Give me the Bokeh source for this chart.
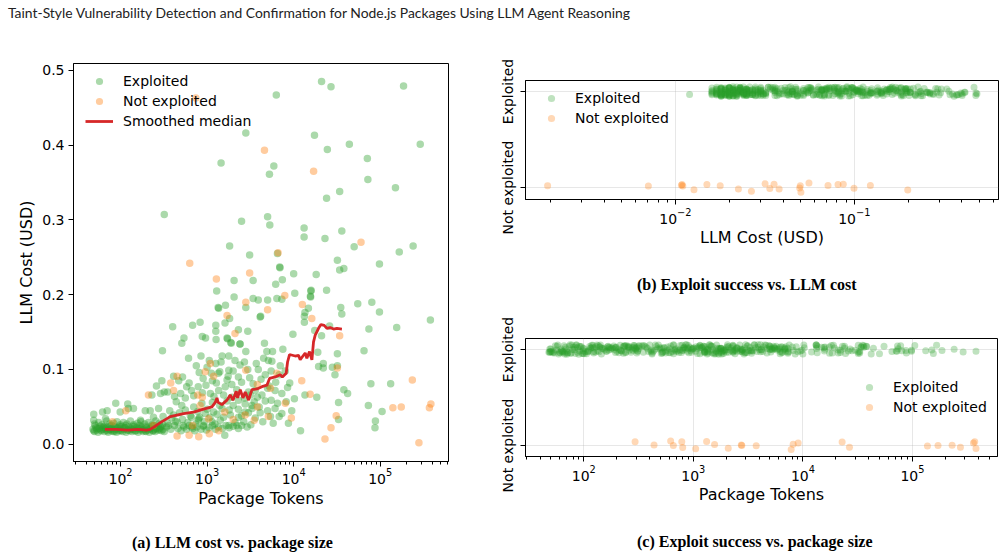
from bokeh.plotting import figure
from bokeh.models import (ColumnDataSource, Range1d, FixedTicker, LogTickFormatter,
                          NumeralTickFormatter, Legend, LegendItem, Div)
from bokeh.layouts import column, row
from bokeh.transform import jitter
from bokeh.embed import file_html
from bokeh.resources import INLINE

# ---------------- data ----------------
HEADER = "Taint-Style Vulnerability Detection and Confirmation for Node.js Packages Using LLM Agent Reasoning"
CAPTION_A = "(a) LLM cost vs. package size"
CAPTION_B = "(b) Exploit success vs. LLM cost"
CAPTION_C = "(c) Exploit success vs. package size"
STATUS_LABELS = {0: "Not exploited", 1: "Exploited"}

# exploited packages: (package tokens, LLM cost in USD), grouped by region
exp_tok_top = [21000, 27000, 186000, 6300, 2800, 17400, 44000, 290000, 24500, 71000,
               1450, 5900, 5250, 72000, 150000, 34000, 24000]
exp_cost_top = [0.485, 0.478, 0.479, 0.467, 0.416, 0.413, 0.401, 0.401, 0.394, 0.382,
                0.376, 0.372, 0.361, 0.354, 0.343, 0.338, 0.329]

exp_tok_midleft = [320, 2500, 1820, 3100, 2050, 3400, 1290, 2050, 3400, 3900,
                   1340, 1360, 1630, 2800, 4100, 4150, 1820, 400, 680, 830,
                   1260, 1610, 1260, 2300, 2950, 540, 880, 960, 1270, 1700,
                   1720, 1900, 1880, 510, 2400]
exp_cost_midleft = [0.307, 0.298, 0.265, 0.253, 0.219, 0.219, 0.205, 0.197, 0.195, 0.193,
                    0.183, 0.182, 0.186, 0.183, 0.170, 0.171, 0.168, 0.157, 0.159, 0.163,
                    0.159, 0.162, 0.151, 0.153, 0.151, 0.142, 0.144, 0.142, 0.140, 0.142,
                    0.141, 0.135, 0.136, 0.135, 0.134]

exp_tok_midright = [5000, 5300, 13200, 13200, 23000, 36000, 50000, 166000, 240000, 98000,
                    32000, 34000, 38000, 6900, 6950, 6500, 10000, 18200, 7400, 6200,
                    15800, 15900, 15700, 15600, 24000, 10300, 5000, 6400, 7300, 55000,
                    80000, 98000, 35000, 36000, 14800, 13500, 13300, 13300, 74000, 155000,
                    380000, 9800, 21000, 17500, 26000, 4600]
exp_cost_midright = [0.304, 0.293, 0.289, 0.277, 0.275, 0.285, 0.264, 0.257, 0.265, 0.241,
                     0.246, 0.233, 0.235, 0.237, 0.236, 0.255, 0.228, 0.227, 0.220, 0.214,
                     0.205, 0.206, 0.197, 0.198, 0.206, 0.202, 0.193, 0.195, 0.194, 0.188,
                     0.190, 0.177, 0.183, 0.174, 0.182, 0.176, 0.171, 0.163, 0.154, 0.156,
                     0.166, 0.147, 0.145, 0.152, 0.158, 0.135]

exp_tok_lowright = [65000, 19000, 32000, 19400, 22000, 22000, 28000, 32000, 30000, 78000,
                    132000, 38000, 42000, 18500, 33000, 73000, 105000, 33000, 88000, 87000]
exp_cost_lowright = [0.125, 0.123, 0.121, 0.104, 0.108, 0.102, 0.103, 0.105, 0.093, 0.081,
                     0.081, 0.073, 0.068, 0.063, 0.056, 0.052, 0.044, 0.033, 0.031, 0.022]

exp_tok_center = [850, 1060, 1260, 1490, 1780, 2100, 2800, 2400, 4900, 5700,
                  5600, 5100, 7500, 3900, 2950, 2400, 1780, 1400, 1120, 810,
                  1750, 2300, 3100, 4700, 6800, 8500, 10200, 13500, 8200, 9500,
                  6800, 8700, 12000, 4100, 5500, 5200, 1090, 880, 1360, 1620,
                  1930, 1280, 970, 790, 2750, 3300, 2750, 2300, 1860, 1490,
                  1190, 950, 800, 910, 1140, 1420, 1780, 2200, 2650, 5400,
                  6100, 7300, 6100, 3600, 4300, 3800, 3150, 3500, 2300, 1930]
exp_cost_center = [0.118, 0.112, 0.108, 0.118, 0.118, 0.112, 0.124, 0.134, 0.124, 0.124,
                   0.111, 0.112, 0.127, 0.100, 0.100, 0.106, 0.099, 0.097, 0.095, 0.096,
                   0.091, 0.090, 0.089, 0.093, 0.093, 0.076, 0.061, 0.066, 0.057, 0.045,
                   0.037, 0.028, 0.018, 0.042, 0.059, 0.078, 0.068, 0.069, 0.072, 0.077,
                   0.080, 0.082, 0.079, 0.077, 0.054, 0.048, 0.043, 0.036, 0.039, 0.048,
                   0.043, 0.041, 0.034, 0.025, 0.030, 0.032, 0.025, 0.025, 0.030, 0.037,
                   0.048, 0.068, 0.072, 0.072, 0.066, 0.063, 0.066, 0.057, 0.059, 0.063]

exp_tok_small = [305, 610, 410, 470, 300, 260, 320, 290, 230, 495,
                 580, 660, 440, 510, 370, 275, 220, 193, 141, 121,
                 123, 88, 70, 62, 49, 49, 67, 99, 170, 240,
                 310, 410, 660, 790, 450, 360, 530, 660]
exp_cost_small = [0.125, 0.115, 0.091, 0.085, 0.085, 0.078, 0.070, 0.068, 0.066, 0.068,
                  0.077, 0.072, 0.057, 0.052, 0.045, 0.048, 0.045, 0.045, 0.048, 0.054,
                  0.048, 0.055, 0.045, 0.043, 0.040, 0.032, 0.034, 0.043, 0.032, 0.036,
                  0.037, 0.039, 0.036, 0.032, 0.030, 0.025, 0.025, 0.023]

exp_tok_band = [340, 380, 420, 460, 500, 540, 580, 620, 680, 720,
                760, 850, 900, 980, 1050, 1150, 1250, 1350, 1500, 1650,
                1800, 2000, 2300, 2500, 2900, 3200, 1600]
exp_cost_band = [0.023, 0.020, 0.025, 0.021, 0.018, 0.023, 0.020, 0.025, 0.021, 0.018,
                 0.023, 0.020, 0.024, 0.019, 0.022, 0.025, 0.020, 0.023, 0.021, 0.025,
                 0.022, 0.024, 0.021, 0.025, 0.023, 0.026, 0.012]

exp_tok_lowmid = [350, 390, 430, 480, 520, 560, 600, 640, 700, 740,
                  780, 820, 870, 930, 1000, 1080, 1150, 1230, 1300, 1400,
                  1550, 1700, 1800, 2000, 2100, 2300, 2500, 2700, 3000, 3300,
                  3600, 4000, 4400, 5000, 5800, 6500, 7300, 4700]
exp_cost_lowmid = [0.028, 0.035, 0.030, 0.042, 0.033, 0.046, 0.029, 0.038, 0.050, 0.027,
                   0.044, 0.036, 0.055, 0.030, 0.047, 0.036, 0.056, 0.027, 0.040, 0.052,
                   0.036, 0.058, 0.046, 0.052, 0.029, 0.047, 0.038, 0.062, 0.042, 0.052,
                   0.035, 0.050, 0.030, 0.045, 0.028, 0.055, 0.041, 0.058]

exp_tok_upmid = [350, 420, 520, 560, 620, 700, 750, 900, 1000, 1150,
                 1200, 1350, 1450, 1550, 1700, 2000, 2200, 2500, 2700, 3000,
                 3400, 3700, 4200, 4500, 5000, 5500, 6200, 7000, 8000, 9000]
exp_cost_upmid = [0.070, 0.064, 0.090, 0.062, 0.082, 0.065, 0.105, 0.088, 0.103, 0.085,
                  0.064, 0.095, 0.110, 0.066, 0.086, 0.098, 0.073, 0.083, 0.110, 0.070,
                  0.081, 0.108, 0.087, 0.115, 0.075, 0.098, 0.083, 0.105, 0.098, 0.082]

exp_tok_cluster = [48, 50, 52, 53, 55, 57, 58, 60, 62, 63,
                   65, 67, 68, 70, 72, 74, 76, 78, 80, 82,
                   84, 86, 88, 90, 93, 95, 98, 100, 103, 106,
                   110, 113, 116, 120, 124, 128, 132, 136, 140, 145,
                   150, 155, 160, 165, 170, 176, 182, 188, 195, 200,
                   208, 215, 222, 230, 238, 245, 252, 260, 270, 280,
                   290, 300, 310, 320,
                   49, 54, 59, 64, 71, 77, 85, 92, 101, 111,
                   122, 134, 147, 162, 178, 196, 216, 236, 258, 285,
                   51, 66, 79, 97, 115, 138, 167, 198, 242, 295,
                   50, 56, 61, 69, 75, 83, 91, 99, 108, 118,
                   130, 142, 156, 172, 190, 210, 232, 255, 280, 305]
exp_cost_cluster = [0.020, 0.017, 0.022, 0.019, 0.016, 0.021, 0.024, 0.018, 0.020, 0.023,
                    0.017, 0.021, 0.019, 0.022, 0.016, 0.020, 0.024, 0.018, 0.021, 0.017,
                    0.019, 0.023, 0.020, 0.016, 0.022, 0.018, 0.021, 0.019, 0.024, 0.017,
                    0.020, 0.022, 0.016, 0.019, 0.023, 0.018, 0.021, 0.017, 0.020, 0.024,
                    0.018, 0.022, 0.016, 0.019, 0.021, 0.023, 0.017, 0.020, 0.018, 0.022,
                    0.019, 0.016, 0.021, 0.024, 0.018, 0.020, 0.017, 0.022, 0.019, 0.021,
                    0.023, 0.018, 0.020, 0.017,
                    0.018, 0.021, 0.019, 0.022, 0.018, 0.020, 0.017, 0.021, 0.018, 0.022,
                    0.019, 0.020, 0.018, 0.021, 0.019, 0.017, 0.020, 0.018, 0.021, 0.019,
                    0.025, 0.024, 0.025, 0.024, 0.025, 0.024, 0.025, 0.024, 0.025, 0.024,
                    0.027, 0.029, 0.026, 0.031, 0.027, 0.028, 0.030, 0.026, 0.029, 0.027,
                    0.031, 0.026, 0.028, 0.030, 0.027, 0.029, 0.026, 0.031, 0.028, 0.027]

# not exploited packages in panel (a)
nexp_tok = [740, 4600, 17000, 630, 1280, 3100, 2800, 1700, 2100, 60000,
            6600, 7900, 5000, 12600, 16200, 34000, 32000, 235000, 140000, 175000,
            385000, 370000, 31000, 27000, 23000, 280000, 1090, 950, 1190, 2800,
            6400, 3800, 5400, 12400, 15500, 8000, 9400, 5100, 3500, 2750,
            2000, 1600, 1040, 800, 1060, 1360, 3800, 880, 210, 115,
            81, 240, 380, 450, 410, 450, 620, 780, 830, 680]
nexp_cost = [0.463, 0.393, 0.365, 0.242, 0.221, 0.229, 0.190, 0.172, 0.148, 0.270,
             0.256, 0.199, 0.180, 0.187, 0.168, 0.145, 0.102, 0.086, 0.049, 0.050,
             0.054, 0.049, 0.038, 0.022, 0.007, 0.002, 0.108, 0.097, 0.091, 0.099,
             0.095, 0.080, 0.075, 0.085, 0.067, 0.055, 0.035, 0.037, 0.032, 0.039,
             0.033, 0.043, 0.034, 0.010, 0.014, 0.018, 0.050, 0.063, 0.066, 0.045,
             0.030, 0.025, 0.082, 0.091, 0.072, 0.011, 0.012, 0.066, 0.052, 0.025]

# smoothed median of cost over package tokens
median_tok = [66, 90, 120, 160, 200, 220, 250, 288, 375, 535,
              697, 910, 1137, 1242, 1300, 1340, 1483, 1694, 1850, 1985,
              2170, 2248, 2415, 2594, 2760, 3015, 3300, 3766, 4300, 4910,
              5265, 6120, 7000, 7400, 8200, 8500, 8960, 10420, 11380, 11900,
              12800, 13600, 14200, 15250, 16250, 16960, 17740, 19380, 20650, 22550,
              24200, 26400, 28900, 31600, 36100]
median_cost = [0.020, 0.020, 0.019, 0.020, 0.019, 0.020, 0.024, 0.029, 0.037, 0.041,
               0.043, 0.047, 0.050, 0.056, 0.062, 0.056, 0.053, 0.059, 0.066, 0.059,
               0.071, 0.062, 0.073, 0.062, 0.070, 0.059, 0.073, 0.074, 0.077, 0.079,
               0.088, 0.090, 0.093, 0.090, 0.095, 0.110, 0.120, 0.118, 0.119, 0.113,
               0.118, 0.122, 0.115, 0.124, 0.113, 0.137, 0.146, 0.155, 0.160, 0.159,
               0.155, 0.156, 0.154, 0.155, 0.154]

# not exploited packages shown in panels (b) and (c)
nexp_cost_b = [0.00193, 0.00706, 0.0108, 0.0109, 0.0110, 0.0127, 0.0150, 0.0178, 0.0225, 0.0266,
               0.0317, 0.0337, 0.0356, 0.0380, 0.0495, 0.0499, 0.0503, 0.0558, 0.0713, 0.0811,
               0.0868, 0.0996, 0.123, 0.199]
nexp_tok_c = [294, 438, 621, 657, 785, 800, 1050, 1322, 1563, 2083,
              2740, 2770, 3747, 7816, 8150, 9050, 22800, 26600, 137000, 171000,
              230000, 274000, 360000, 370000, 380000]

exp_tok = (exp_tok_top + exp_tok_midleft + exp_tok_midright + exp_tok_lowright + exp_tok_center
           + exp_tok_small + exp_tok_band + exp_tok_lowmid + exp_tok_upmid + exp_tok_cluster)
exp_cost = (exp_cost_top + exp_cost_midleft + exp_cost_midright + exp_cost_lowright + exp_cost_center
            + exp_cost_small + exp_cost_band + exp_cost_lowmid + exp_cost_upmid + exp_cost_cluster)
assert len(exp_tok) == len(exp_cost)
assert len(nexp_tok) == len(nexp_cost)
assert len(median_tok) == len(median_cost)

# ---------------- styling ----------------
GREEN, ORANGE, RED = "#2ca02c", "#ff7f0e", "#d62728"
FONT = "DejaVu Sans"
CAP_FONT = "Liberation Serif"


def minor_decades(e0, e1):
    return [m * 10.0 ** e for e in range(e0, e1) for m in range(2, 10)]


def style(p):
    for ax in p.axis:
        ax.axis_line_color = "black"
        ax.axis_line_width = 1
        ax.major_tick_line_color = "black"
        ax.minor_tick_line_color = "black"
        ax.major_tick_out = 5
        ax.major_tick_in = 0
        ax.minor_tick_out = 3
        ax.minor_tick_in = 0
        ax.major_label_text_font = FONT
        ax.major_label_text_font_size = "14px"
        ax.major_label_text_color = "black"
        ax.axis_label_text_font = FONT
        ax.axis_label_text_font_size = "16px"
        ax.axis_label_text_font_style = "normal"
        ax.axis_label_text_color = "black"
    p.outline_line_color = "black"
    p.outline_line_alpha = 1
    p.outline_line_width = 1
    p.background_fill_color = "white"
    p.border_fill_color = "white"


def caption_div(text, width, height, pad_left, pad_top):
    return Div(text=text, width=width, height=height, margin=(0, 0, 0, 0),
               styles={"font-family": CAP_FONT, "font-size": "16px", "font-weight": "bold",
                       "color": "black", "line-height": "20px", "white-space": "nowrap",
                       "padding-left": f"{pad_left}px", "padding-top": f"{pad_top}px",
                       "box-sizing": "border-box", "background-color": "white"})


def make_legend(p, items, loc):
    lg = Legend(items=items, location=loc, label_text_font=FONT, label_text_font_size="14px",
                label_text_color="black", glyph_width=28, glyph_height=18, label_height=18,
                label_standoff=10, spacing=2, padding=0, margin=0,
                border_line_alpha=0, background_fill_alpha=0)
    p.add_layout(lg)


# ---------------- panel (a) ----------------
pa = figure(x_axis_type="log", x_range=Range1d(28.6, 6.15e5), y_range=Range1d(-0.023, 0.509),
            frame_width=375, frame_height=398, min_border_left=73, min_border_right=42,
            min_border_top=33, min_border_bottom=54, output_backend="svg", toolbar_location=None)
src_e = ColumnDataSource(dict(x=exp_tok, y=exp_cost))
src_n = ColumnDataSource(dict(x=nexp_tok, y=nexp_cost))
ra_e = pa.scatter("x", "y", source=src_e, size=7.5, fill_color=GREEN, fill_alpha=0.4, line_color=None)
ra_n = pa.scatter("x", "y", source=src_n, size=7.5, fill_color=ORANGE, fill_alpha=0.4, line_color=None)
ra_m = pa.line(median_tok, median_cost, line_color=RED, line_width=2.8)
pa.grid.visible = False
pa.xaxis.ticker = FixedTicker(ticks=[1e2, 1e3, 1e4, 1e5], minor_ticks=minor_decades(1, 6))
pa.xaxis.formatter = LogTickFormatter()
pa.yaxis.ticker = FixedTicker(ticks=[0.0, 0.1, 0.2, 0.3, 0.4, 0.5])
pa.yaxis.formatter = NumeralTickFormatter(format="0.0")
pa.xaxis.axis_label = "Package Tokens"
pa.yaxis.axis_label = "LLM Cost (USD)"
style(pa)
pa.xaxis.major_label_standoff = 1
pa.xaxis.axis_label_standoff = 2
pa.yaxis.major_label_standoff = 4
pa.yaxis.axis_label_standoff = 3
make_legend(pa, [LegendItem(label="Exploited", renderers=[ra_e]),
                 LegendItem(label="Not exploited", renderers=[ra_n]),
                 LegendItem(label="Smoothed median", renderers=[ra_m])], (12, 331))


def strip_panel(x_range, x_ticks, minor, border_left, frame_w, frame_h, top, bottom, y_range):
    p = figure(x_axis_type="log", x_range=x_range, y_range=y_range,
               frame_width=frame_w, frame_height=frame_h, min_border_left=border_left,
               min_border_right=7, min_border_top=top, min_border_bottom=bottom,
               output_backend="svg", toolbar_location=None)
    p.xaxis.ticker = FixedTicker(ticks=x_ticks, minor_ticks=minor)
    p.xaxis.formatter = LogTickFormatter()
    p.yaxis.ticker = FixedTicker(ticks=[0, 1])
    p.yaxis.major_label_overrides = STATUS_LABELS
    p.yaxis.major_label_orientation = "vertical"
    p.xgrid.ticker = FixedTicker(ticks=x_ticks)
    p.ygrid.ticker = FixedTicker(ticks=[0, 1])
    p.grid.grid_line_color = "#b0b0b0"
    p.grid.grid_line_alpha = 0.3
    p.grid.grid_line_width = 1
    style(p)
    p.xaxis.major_label_standoff = 3
    p.xaxis.axis_label_standoff = 1
    p.yaxis.major_label_standoff = 4
    return p


# ---------------- panel (b) ----------------
pb = strip_panel(Range1d(1.452e-3, 0.640), [1e-2, 1e-1], minor_decades(-3, 0), 34, 473, 119, 50, 63,
                 Range1d(-0.125, 1.115))
sb_e = ColumnDataSource(dict(x=exp_cost, y=[1] * len(exp_cost)))
sb_n = ColumnDataSource(dict(x=nexp_cost_b, y=[0] * len(nexp_cost_b)))
rb_e = pb.scatter("x", jitter("y", width=0.1), source=sb_e, size=7, fill_color=GREEN, fill_alpha=0.3, line_color=None)
rb_n = pb.scatter("x", jitter("y", width=0.1), source=sb_n, size=7, fill_color=ORANGE, fill_alpha=0.3, line_color=None)
pb.xaxis.axis_label = "LLM Cost (USD)"
make_legend(pb, [LegendItem(label="Exploited", renderers=[rb_e]),
                 LegendItem(label="Not exploited", renderers=[rb_n])], (12, 72))

# ---------------- panel (c) ----------------
pc = strip_panel(Range1d(29.4, 5.97e5), [1e2, 1e3, 1e4, 1e5], minor_decades(1, 6), 35, 472, 118, 38, 59,
                 Range1d(-0.115, 1.115))
sc_e = ColumnDataSource(dict(x=exp_tok, y=[1] * len(exp_tok)))
sc_n = ColumnDataSource(dict(x=nexp_tok_c, y=[0] * len(nexp_tok_c)))
rc_e = pc.scatter("x", jitter("y", width=0.1), source=sc_e, size=7, fill_color=GREEN, fill_alpha=0.3, line_color=None)
rc_n = pc.scatter("x", jitter("y", width=0.1), source=sc_n, size=7, fill_color=ORANGE, fill_alpha=0.3, line_color=None)
pc.xaxis.axis_label = "Package Tokens"
make_legend(pc, [LegendItem(label="Exploited", renderers=[rc_e]),
                 LegendItem(label="Not exploited", renderers=[rc_n])], (330, 40))

header = Div(text=HEADER, width=1004, height=30, margin=(0, 0, 0, 0),
             styles={"font-family": "Lato", "font-size": "13.9px", "color": "#222",
                     "padding-left": "8px", "padding-top": "3px", "box-sizing": "border-box",
                     "white-space": "nowrap"})

cap_a = caption_div(CAPTION_A, 490, 43, 132, 18)
cap_b = caption_div(CAPTION_B, 514, 38, 147, 13)
cap_c = caption_div(CAPTION_C, 514, 43, 147, 17)

layout = column(header,
                row(column(pa, cap_a, spacing=0),
                    column(pb, cap_b, pc, cap_c, spacing=0), spacing=0),
                spacing=0)

with open("out.html", "w") as f:
    f.write(file_html(layout, INLINE))
